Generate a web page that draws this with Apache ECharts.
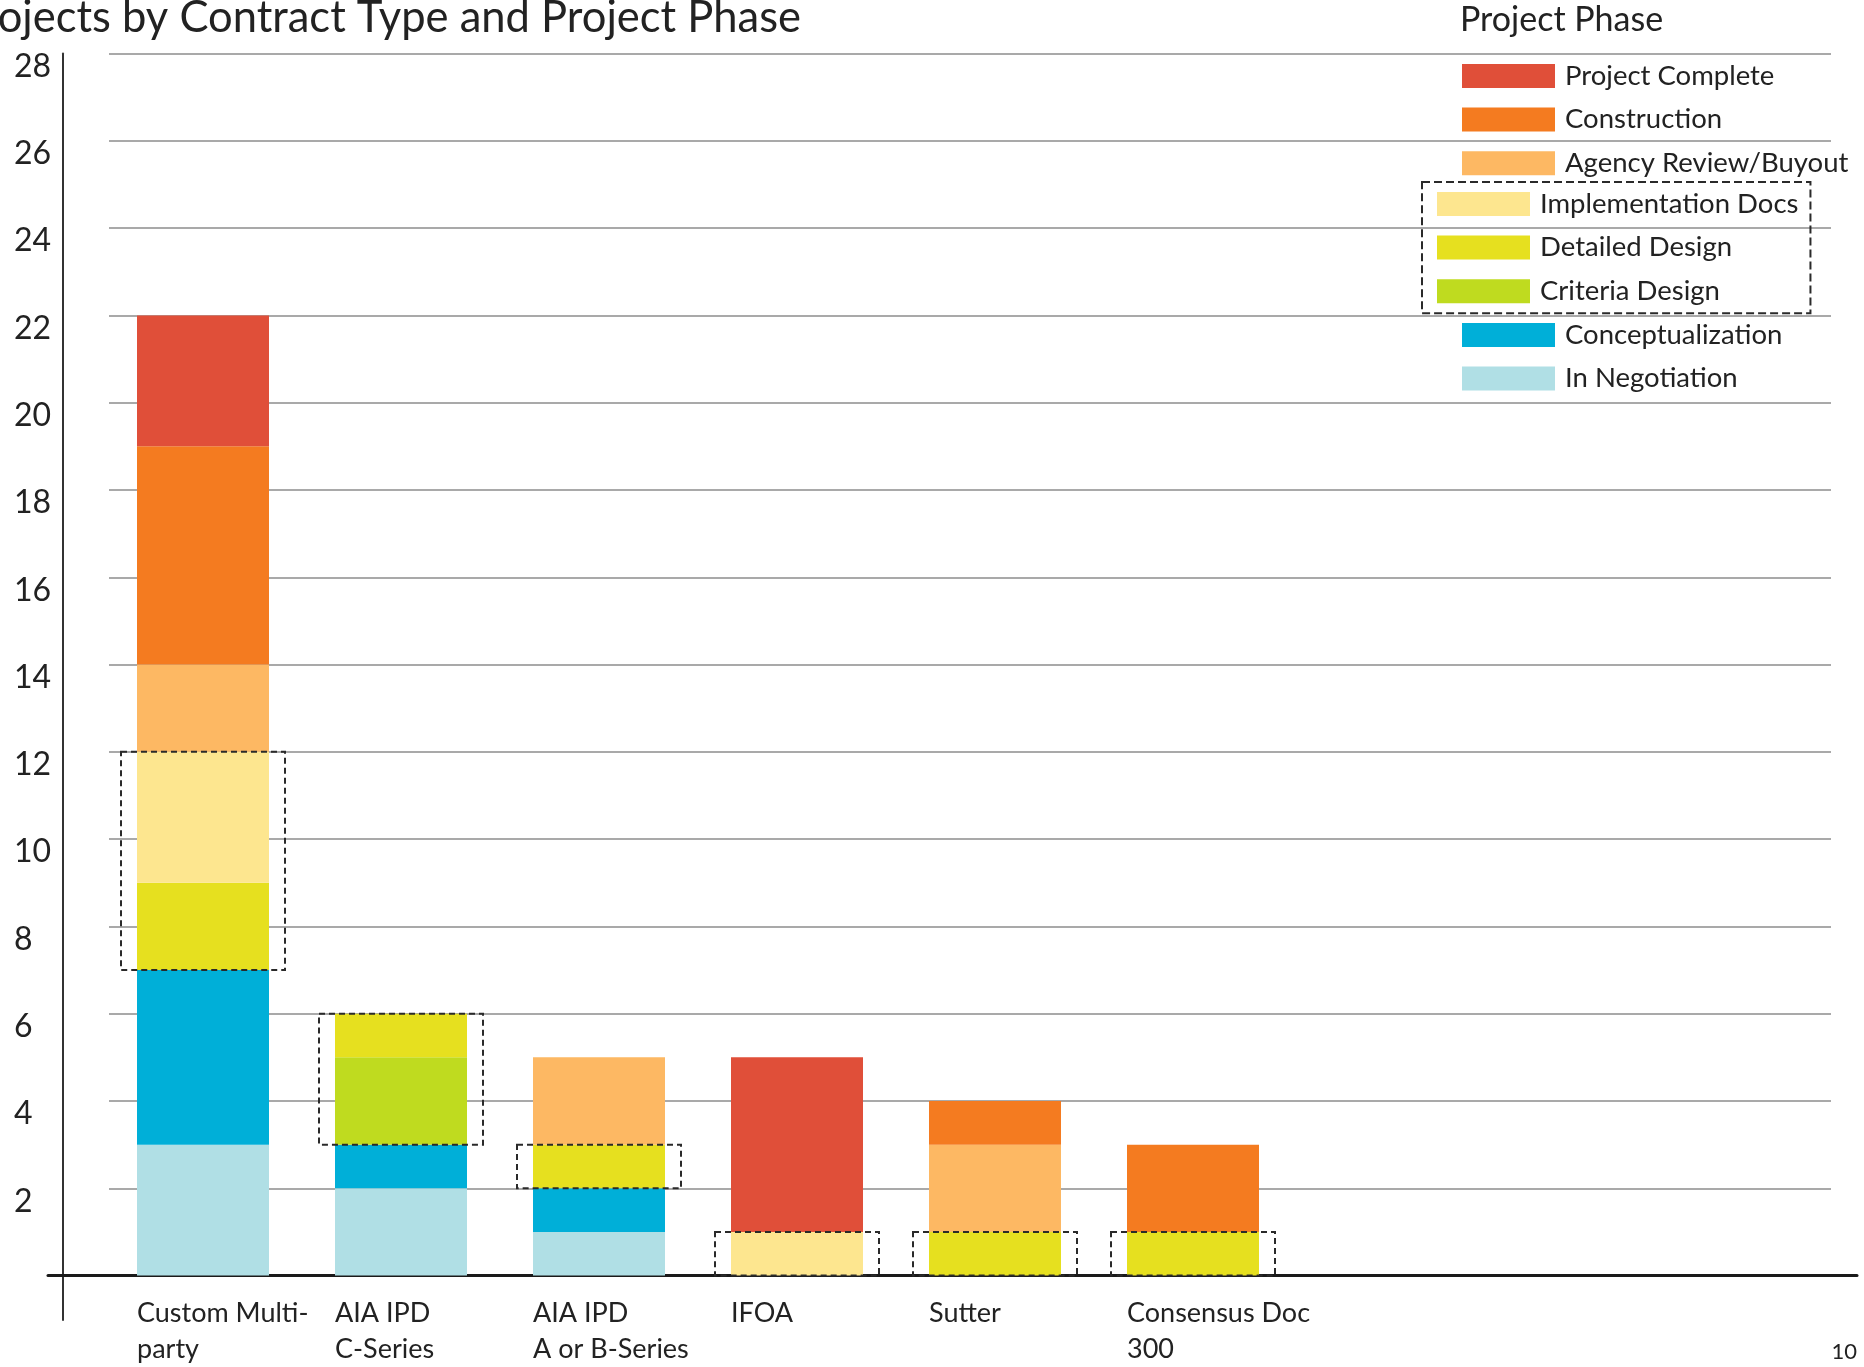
<!DOCTYPE html>
<html>
<head>
<meta charset="utf-8">
<script src="https://cdn.jsdelivr.net/npm/echarts@6/dist/echarts.min.js"></script>
<style>
html,body{margin:0;padding:0;background:#fff;}
#chart{width:1864px;height:1367px;}
</style>
</head>
<body>
<div id="chart"></div>
<script>
// ---- data ----
var categories = ['Custom Multi-\nparty', 'AIA IPD\nC-Series', 'AIA IPD\nA or B-Series', 'IFOA', 'Sutter', 'Consensus Doc\n300'];
var yTicks = [0, 2, 4, 6, 8, 10, 12, 14, 16, 18, 20, 22, 24, 26, 28];
var inNegotiation      = [3, 2, 1, 0, 0, 0];
var conceptualization  = [4, 1, 1, 0, 0, 0];
var criteriaDesign     = [0, 2, 0, 0, 0, 0];
var detailedDesign     = [2, 1, 1, 0, 1, 1];
var implementationDocs = [3, 0, 0, 1, 0, 0];
var agencyReview       = [2, 0, 2, 0, 2, 0];
var construction       = [5, 0, 0, 0, 1, 2];
var projectComplete    = [3, 0, 0, 4, 0, 0];

var phaseNames = ['In Negotiation', 'Conceptualization', 'Criteria Design', 'Detailed Design',
  'Implementation Docs', 'Agency Review/Buyout', 'Construction', 'Project Complete'];
var phaseValues = [inNegotiation, conceptualization, criteriaDesign, detailedDesign,
  implementationDocs, agencyReview, construction, projectComplete];
var phaseColors = ['#B0DFE5', '#00AFD8', '#BFDB1F', '#E6E01F', '#FDE68F', '#FDB863', '#F47B20', '#E04F39'];

// design-phase dashed boxes derived from data
var designBoxes = categories.map(function (c, i) {
  var low = inNegotiation[i] + conceptualization[i];
  var high = low + criteriaDesign[i] + detailedDesign[i] + implementationDocs[i];
  return [i, low, high];
});

var FONT = 'Lato, "Open Sans", sans-serif';
var TOP = 53.5, BOTTOM = 91.4;
var yMax = yTicks[yTicks.length - 1];

var series = phaseNames.map(function (name, k) {
  return {
    name: name, type: 'bar', stack: 'total', xAxisIndex: 1, yAxisIndex: 1,
    barWidth: 132, data: phaseValues[k],
    itemStyle: { color: phaseColors[k] }, z: 3
  };
});
series.push({
  type: 'custom', xAxisIndex: 1, yAxisIndex: 1, z: 10, silent: true,
  data: designBoxes,
  renderItem: function (params, api) {
    var i = api.value(0), lo = api.value(1), hi = api.value(2);
    if (hi <= lo) return null;
    var p0 = api.coord([i, lo]), p1 = api.coord([i, hi]);
    var w = 164;
    return {
      type: 'rect',
      shape: { x: p0[0] - w / 2, y: p1[1], width: w, height: p0[1] - p1[1] },
      style: { fill: 'none', stroke: '#2a2a2a', lineWidth: 2, lineDash: [6, 4] }
    };
  }
});

var legendText = { fontFamily: FONT, fontSize: 27.5, color: '#222', lineHeight: 24, padding: [0, 0, 0, 5] };
var GAP = 15.6;

var chart = echarts.init(document.getElementById('chart'));
chart.setOption({
  backgroundColor: '#fff',
  animation: false,
  textStyle: { fontFamily: FONT },
  title: [
    { text: 'Projects by Contract Type and Project Phase', left: -43, top: -4, padding: 0,
      textStyle: { fontFamily: FONT, fontSize: 43.5, fontWeight: 'normal', color: '#222' } },
    { text: 'Project Phase', left: 1460, top: 3, padding: 0,
      textStyle: { fontFamily: FONT, fontSize: 34, fontWeight: 'normal', color: '#222' } },
    { text: '10', right: 7, top: 1341, padding: 0,
      textStyle: { fontFamily: FONT, fontSize: 22, fontWeight: 'normal', color: '#222' } }
  ],
  legend: [
    { data: ['Project Complete', 'Construction', 'Agency Review/Buyout'],
      orient: 'vertical', left: 1462, top: 62, padding: 0, itemGap: GAP,
      itemWidth: 93, itemHeight: 24, icon: 'rect', selectedMode: false,
      textStyle: legendText },
    { data: ['Implementation Docs', 'Detailed Design', 'Criteria Design'],
      orient: 'vertical', left: 1422, top: 182, padding: [8, 12, 8, 15], itemGap: GAP,
      itemWidth: 93, itemHeight: 24, icon: 'rect', selectedMode: false,
      borderColor: '#2a2a2a', borderWidth: 2, borderType: 'dashed',
      textStyle: legendText },
    { data: ['Conceptualization', 'In Negotiation'],
      orient: 'vertical', left: 1462, top: 321, padding: 0, itemGap: GAP,
      itemWidth: 93, itemHeight: 24, icon: 'rect', selectedMode: false,
      textStyle: legendText }
  ],
  grid: [
    { left: 109, right: 33, top: TOP, bottom: BOTTOM },          // 0 gridlines + y labels
    { left: 104, width: 1188, top: TOP, bottom: BOTTOM },        // 1 bars
    { left: 38, width: 1188, top: TOP, bottom: BOTTOM },         // 2 x labels
    { left: 48, right: 7, top: TOP, bottom: BOTTOM },            // 3 baseline
    { left: 63, width: 10, top: TOP, bottom: 47 }                // 4 vertical axis line
  ],
  xAxis: [
    { gridIndex: 0, type: 'category', data: categories, show: false },
    { gridIndex: 1, type: 'category', data: categories, show: false },
    { gridIndex: 2, type: 'category', data: categories,
      axisLine: { show: false }, axisTick: { show: false }, splitLine: { show: false },
      axisLabel: { interval: 0, align: 'left', margin: 30, fontFamily: FONT, fontSize: 27,
        lineHeight: 36, color: '#222', verticalAlign: 'top' } },
    { gridIndex: 3, type: 'category', data: [''],
      axisLine: { show: true, lineStyle: { color: '#1a1a1a', width: 3 } },
      axisTick: { show: false }, axisLabel: { show: false }, splitLine: { show: false } },
    { gridIndex: 4, type: 'category', data: [''], show: false }
  ],
  yAxis: [
    { gridIndex: 0, type: 'value', min: 0, max: yMax, interval: 2,
      axisLine: { show: false }, axisTick: { show: false },
      splitLine: { show: true, lineStyle: { color: '#8c8c8c', width: 1.5 } },
      axisLabel: { margin: 95, align: 'left', verticalAlign: 'top', lineHeight: 26,
        fontFamily: FONT, fontSize: 32, color: '#222',
        formatter: function (v) { return v === 0 ? '' : String(v); } } },
    { gridIndex: 1, type: 'value', min: 0, max: yMax, show: false },
    { gridIndex: 2, type: 'value', min: 0, max: yMax, show: false },
    { gridIndex: 3, type: 'value', min: 0, max: yMax, show: false },
    { gridIndex: 4, type: 'value', min: 0, max: yMax,
      axisLine: { show: true, onZero: false, lineStyle: { color: '#333', width: 2 } },
      axisTick: { show: false }, axisLabel: { show: false }, splitLine: { show: false } }
  ],
  series: series
});
</script>
</body>
</html>
